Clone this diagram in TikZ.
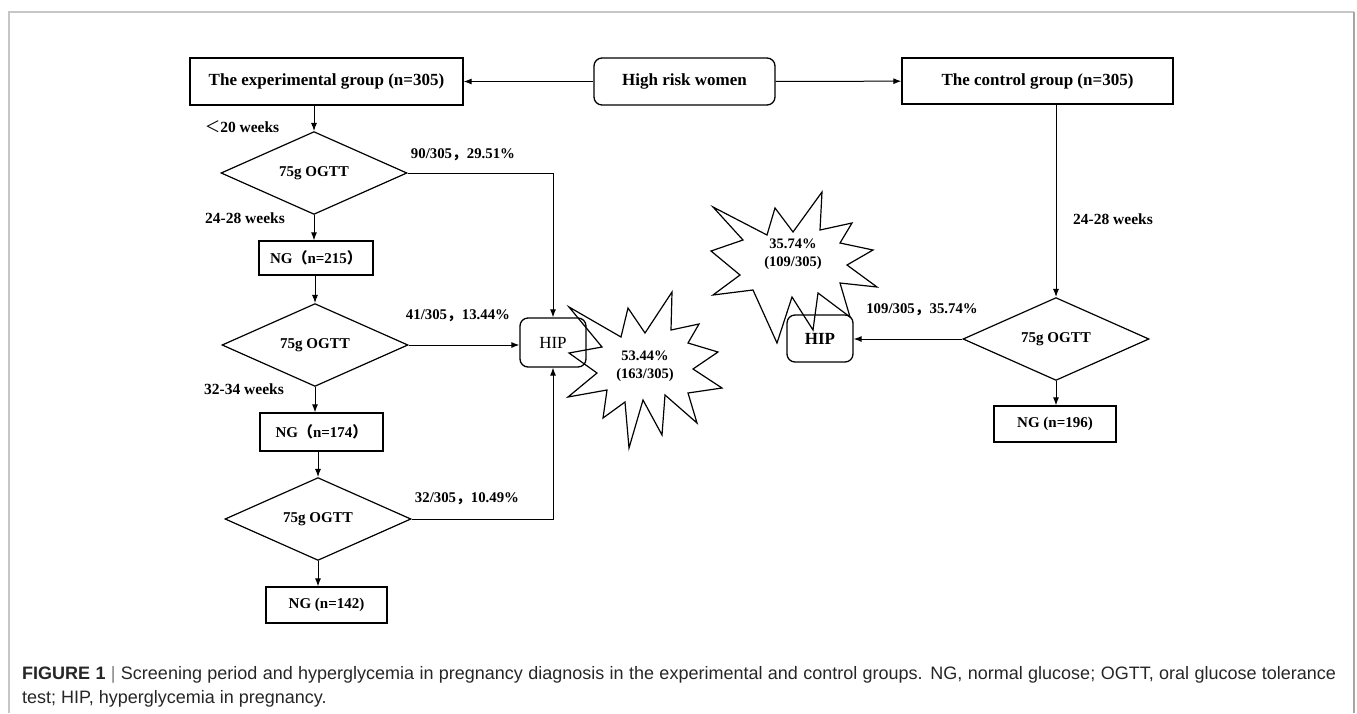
\documentclass[tikz,border=0pt]{standalone}
\usepackage{fontspec}
\setmainfont{Liberation Serif}
\newfontfamily\capfont{Liberation Sans}
\newfontfamily\cjk{Noto Sans CJK SC}
\usetikzlibrary{shapes.geometric, arrows.meta}
\newcommand{\fwc}{{\cjk ，}}
\newcommand{\fwl}{{\cjk （}}
\newcommand{\fwr}{{\cjk ）}}

\begin{document}
\begin{tikzpicture}[x=1pt, y=-1pt,
	box/.style={draw, line width=1.3pt, inner sep=0, font=\fontsize{15}{17}\selectfont\bfseries},
	bigbox/.style={box, font=\fontsize{17}{19}\selectfont\bfseries},
	rbox/.style={bigbox, rounded corners=8pt},
	test/.style={draw, diamond, line width=1.2pt, inner sep=0, minimum width=186pt, minimum height=66pt, font=\fontsize{15}{17}\selectfont\bfseries},
	lbl/.style={inner sep=0, font=\fontsize{14.8}{17}\selectfont\bfseries},
	wk/.style={inner sep=0, font=\fontsize{15.5}{17}\selectfont\bfseries},
	burst/.style={line width=1.2pt, line join=miter},
	arr/.style={-{Latex[length=8pt, width=6pt]}, line width=1pt}
]
	\useasboundingbox (0,0) rectangle (1357,713);
	\draw[gray!45, line width=1.5pt] (9,713) -- (9,12) -- (1354,12);
	\draw[gray!70, line width=1.5pt] (1354,12) -- (1354,713);

	\node[bigbox, minimum width=273pt, minimum height=47pt] (exp) at (326.5,81.5) {The experimental group (n=305)};
	\node[rbox, minimum width=181pt, minimum height=47pt] (risk) at (684.5,81.5) {High risk women};
	\node[bigbox, minimum width=271pt, minimum height=46pt] (ctrl) at (1037.5,81) {The control group (n=305)};
	\draw[arr] (risk) -- (exp);
	\draw[arr] (risk) -- (ctrl);

	\node[test] (ogtt1) at (314,173) {75g OGTT};
	\node[box, minimum width=114pt, minimum height=34pt] (ng215) at (316,258) {NG\fwl n=215\fwr};
	\node[test] (ogtt2) at (315,345) {75g OGTT};
	\node[box, minimum width=123pt, minimum height=38pt] (ng174) at (321.5,432) {NG\fwl n=174\fwr};
	\node[test] (ogtt3) at (318,519) {75g OGTT};
	\node[box, minimum width=121pt, minimum height=36pt] (ng142) at (326.5,605) {NG (n=142)};
	\node[draw, line width=1.3pt, rounded corners=8pt, minimum width=66pt, minimum height=49pt, font=\fontsize{17}{19}\selectfont] (hipa) at (553,342.5) {HIP};

	\node[wk] (wk20) at (242,127) {{\mdseries\cjk ＜}20 weeks};
	\node[wk] (wk24a) at (245,218) {24-28 weeks};
	\node[wk] (wk32) at (244,389) {32-34 weeks};
	\node[lbl] (pa) at (463,155) {90/305\fwc 29.51\%};
	\node[lbl] (pb) at (458,316) {41/305\fwc 13.44\%};
	\node[lbl] (pc) at (467,499) {32/305\fwc 10.49\%};

	\draw[arr] (exp.south -| ogtt1.north) -- (ogtt1.north);
	\draw[arr] (ogtt1.south) -- (ng215.north -| ogtt1.south);
	\draw[arr] (ng215.south -| ogtt2.north) -- (ogtt2.north);
	\draw[arr] (ogtt2.south) -- (ng174.north -| ogtt2.south);
	\draw[arr] (ng174.south -| ogtt3.north) -- (ogtt3.north);
	\draw[arr] (ogtt3.south) -- (ng142.north -| ogtt3.south);
	\draw[arr] (ogtt1.east) -| (hipa.north);
	\draw[arr] (ogtt2.east) -- (hipa.west |- ogtt2.east);
	\draw[arr] (ogtt3.east) -| (hipa.south);

	\draw[burst] (569,307) -- (621,337) -- (628,308) -- (645,333) -- (672,292) -- (671,330) -- (699,324) -- (688,343) -- (718,352) -- (693,369) -- (722,388) -- (688,393) -- (697,423) -- (665,395) -- (662,435) -- (643,400) -- (629,448) -- (625,402) -- (603,418) -- (607,390) -- (568,397) -- (597,373) -- (569,353) -- (602,347) -- cycle;
	\node[lbl, align=center, font=\fontsize{14.5}{17.5}\selectfont\bfseries] (tota) at (645,366) {53.44\%\\(163/305)};

	\node[test] (ogtt4) at (1056,339) {75g OGTT};
	\node[box, minimum width=122pt, minimum height=36pt] (ng196) at (1055,424) {NG (n=196)};
	\node[draw, line width=1.3pt, rounded corners=8pt, minimum width=66pt, minimum height=47pt, font=\fontsize{17}{19}\selectfont\bfseries] (hipb) at (820,338.5) {HIP};
	\node[wk] (wk24b) at (1113,219) {24-28 weeks};
	\node[lbl] (pd) at (922,310) {109/305\fwc 35.74\%};
	\draw[arr] (ctrl.south -| ogtt4.north) -- (ogtt4.north);
	\draw[arr] (ogtt4.south) -- (ng196.north -| ogtt4.south);
	\draw[arr] (ogtt4.west) -- (hipb.east |- ogtt4.west);

	\draw[burst] (713,207) -- (767,235) -- (775,208) -- (793,232) -- (822,192) -- (820,230) -- (852,223) -- (840,243) -- (873,250) -- (847,265) -- (877,287) -- (840,283) -- (850,317) -- (818,293) -- (813,330) -- (792,297) -- (777,343) -- (753,290) -- (713,295) -- (740,275) -- (711,251) -- (743,240) -- cycle;
	\node[lbl, align=center, font=\fontsize{14.5}{17.5}\selectfont\bfseries] (totb) at (793,254) {35.74\%\\(109/305)};

	\node[anchor=north west, inner sep=0, text width=1314pt, align=justify, text=black!85, font=\capfont\fontsize{18}{24}\selectfont] (cap) at (22,666) {\textbf{FIGURE 1} {\color{gray}|} Screening period and hyperglycemia in pregnancy diagnosis in the experimental and control groups. NG, normal glucose; OGTT, oral glucose tolerance\linebreak test; HIP, hyperglycemia in pregnancy.};
\end{tikzpicture}
\end{document}
